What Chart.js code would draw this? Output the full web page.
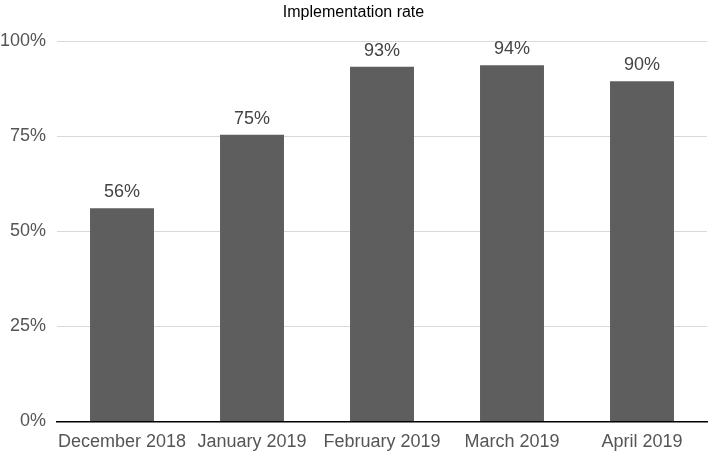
<!DOCTYPE html>
<html>
<head>
<meta charset="utf-8">
<title>Implementation rate</title>
<script src="https://cdn.jsdelivr.net/npm/chart.js@4"></script>
<style>
    body { margin: 0; background: #fff; }
    #wrap { width: 709px; height: 452px; position: relative; }
</style>
</head>
<body>
<div id="wrap"><canvas id="rateChart"></canvas></div>
<script>
// Datos del gráfico
const meses = ['December 2018', 'January 2019', 'February 2019', 'March 2019', 'April 2019'];
const tasas = [56.1, 75.4, 93.3, 93.7, 89.5];
const ticksY = [0, 25, 50, 75, 100];

const fuente = '"Liberation Sans", Arial, Helvetica, sans-serif';

// Plugin para las etiquetas encima de las barras
const etiquetasBarras = {
    id: 'etiquetasBarras',
    afterDatasetsDraw(chart) {
        const ctx = chart.ctx;
        const meta = chart.getDatasetMeta(0);
        ctx.save();
        ctx.font = '18px ' + fuente;
        ctx.fillStyle = '#444444';
        ctx.textAlign = 'center';
        ctx.textBaseline = 'middle';
        meta.data.forEach((bar, i) => {
            ctx.fillText(Math.round(tasas[i]) + '%', bar.x, bar.y - 16);
        });
        ctx.restore();
    }
};

// Crear gráfico
const ctx = document.getElementById('rateChart').getContext('2d');
new Chart(ctx, {
    type: 'bar',
    data: {
        labels: meses,
        datasets: [{
            label: 'Implementation rate',
            data: tasas,
            backgroundColor: '#5e5e5e',
            categoryPercentage: 1,
            barPercentage: 0.492
        }]
    },
    options: {
        responsive: true,
        maintainAspectRatio: false,
        animation: false,
        layout: { padding: { left: 0, right: 2, top: 0, bottom: 0 } },
        plugins: {
            legend: { display: false },
            tooltip: { enabled: false },
            title: {
                display: true,
                text: 'Implementation rate',
                color: '#000000',
                font: { family: fuente, size: 16, weight: 'normal' },
                padding: { top: 3, bottom: 19 }
            }
        },
        scales: {
            x: {
                grid: { display: false, drawTicks: false },
                border: { display: true, color: '#000000', width: 1.5 },
                ticks: {
                    color: '#555555',
                    font: { family: fuente, size: 18 },
                    padding: 10,
                    maxRotation: 0,
                    autoSkip: false
                },
                afterFit(scale) { scale.height = 30.5; }
            },
            y: {
                min: 0,
                max: 100,
                afterBuildTicks(scale) {
                    scale.ticks = ticksY.map(v => ({ value: v }));
                },
                grid: { color: '#d9d9d9', lineWidth: 1, drawTicks: false },
                border: { display: false },
                ticks: {
                    color: '#555555',
                    font: { family: fuente, size: 18 },
                    padding: 11,
                    callback: v => v + '%'
                },
                afterFit(scale) { scale.width = 57; }
            }
        }
    },
    plugins: [etiquetasBarras]
});
</script>
</body>
</html>
